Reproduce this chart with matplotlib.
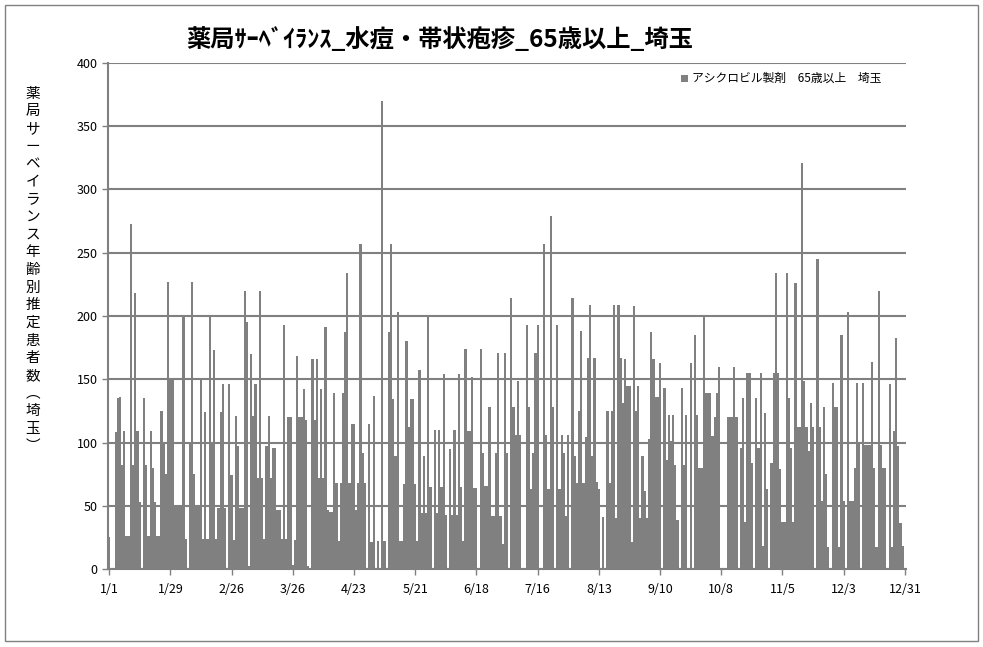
import matplotlib
matplotlib.use("Agg")
import matplotlib.pyplot as plt
from matplotlib.patches import Rectangle
import numpy as np

plt.rcParams['font.family'] = ['Noto Sans CJK JP', 'DejaVu Sans']

title = "薬局ｻｰﾍﾞｲﾗﾝｽ_水痘・帯状疱疹_65歳以上_埼玉"
ylabel_chars = ["薬", "局", "サ", "ー", "ベ", "イ", "ラ", "ン", "ス", "年", "齢", "別",
                "推", "定", "患", "者", "数", "︵", "埼", "玉", "︶"]
series_name = "アシクロビル製剤　65歳以上　埼玉"

tick_labels = ["1/1", "1/29", "2/26", "3/26", "4/23", "5/21", "6/18", "7/16",
               "8/13", "9/10", "10/8", "11/5", "12/3", "12/31"]
tick_days = [0, 28, 56, 84, 112, 140, 168, 196, 224, 252, 280, 308, 336, 364]

jan_feb = [25, 0, 0, 108, 135, 136, 82, 109, 26, 26, 273, 82, 218, 109, 53, 0, 135, 82, 26, 109,
           80, 53, 26, 26, 125, 100, 75, 227, 150, 150,
           50, 50, 50, 50, 201, 24, 0, 100, 227, 75, 50, 50, 150, 24, 124, 24, 199, 100, 173, 24,
           48, 124, 146, 48, 0, 146, 74, 23, 121, 97, 48]
mar_apr = [48, 220, 195, 2, 170, 121, 146, 72, 220, 72, 24, 97, 121, 72, 96, 96, 47, 47, 24, 193,
           24, 120, 120, 3, 23, 168, 120, 120, 142, 118,
           2, 0, 166, 118, 166, 72, 142, 72, 191, 47, 45, 45, 139, 68, 22, 68, 139, 187, 234, 68,
           115, 115, 47, 68, 257, 92, 68, 0, 115, 21, 137]
may_jun = [0, 22, 0, 370, 22, 0, 187, 257, 134, 89, 203, 22, 22, 67, 180, 112, 134, 134, 67, 22,
           157, 44, 89, 44, 199, 65, 0, 110, 44, 110, 65,
           154, 43, 0, 95, 43, 110, 43, 154, 65, 22, 174, 109, 109, 152, 64, 64, 0, 174, 92, 66,
           66, 128, 42, 42, 92, 171, 42, 20, 171, 92]
jul_aug = [0, 214, 128, 106, 149, 106, 0, 0, 193, 128, 63, 92, 171, 193, 0, 0, 257, 106, 63, 279,
           128, 0, 193, 63, 106, 92, 42, 106, 0, 214, 89,
           68, 125, 188, 68, 104, 167, 209, 89, 167, 69, 63, 0, 41, 0, 125, 68, 125, 209, 40, 209,
           167, 131, 166, 145, 145, 21, 208, 125, 145, 40, 89]
sep_oct = [62, 40, 103, 187, 166, 136, 136, 163, 0, 143, 86, 122, 101, 122, 82, 39, 0, 143, 82, 122,
           0, 163, 0, 185, 122, 80, 80, 201, 139, 139,
           139, 105, 120, 139, 160, 0, 0, 0, 120, 120, 120, 160, 120, 0, 96, 135, 37, 155, 155, 84,
           0, 135, 96, 155, 18, 123, 63, 0, 84, 155, 234]
nov_dec = [155, 79, 37, 37, 234, 135, 96, 37, 226, 112, 112, 321, 149, 112, 93, 131, 112, 0, 245, 112,
           54, 128, 75, 17, 0, 147, 128, 128, 17, 185,
           54, 0, 203, 54, 54, 80, 147, 99, 0, 147, 98, 98, 98, 164, 80, 17, 220, 98, 80, 80,
           0, 146, 17, 109, 183, 97, 36, 18, 0]

values = jan_feb + mar_apr + may_jun + jul_aug + sep_oct + nov_dec
days = np.arange(len(values))

W, H = 983, 647
fig = plt.figure(figsize=(W / 100, H / 100), dpi=100)
fig.patch.set_facecolor("white")
fig.patches.append(Rectangle((5 / W, 6 / H), 973 / W, 636 / H, transform=fig.transFigure,
                             fill=False, edgecolor="#808080", linewidth=1.0))

gray = "#808080"
ax = fig.add_axes([108 / W, 1 - 569 / H, (906 - 108) / W, (569 - 63) / H])
ax.bar(days, values, width=1.0, color=gray, linewidth=0)
ax.set_xlim(-0.5, len(values) - 0.5)
ax.set_ylim(0, 400)
ax.set_yticks(range(0, 401, 50))
ax.yaxis.grid(True, color=gray, linewidth=1.5)
ax.set_axisbelow(True)
ax.set_xticks(tick_days)
ax.set_xticklabels(tick_labels)
ax.tick_params(axis="both", colors=gray, labelcolor="black", labelsize=9, length=4, width=1)
ax.tick_params(axis="x", pad=6)
for s in ["top", "right"]:
    ax.spines[s].set_visible(False)
for s in ["left", "bottom"]:
    ax.spines[s].set_color(gray)
    ax.spines[s].set_linewidth(1.5)

fig.text(440 / W, 1 - 40 / H, title, ha="center", va="center", fontsize=17.5, fontweight="bold")
fig.text(33 / W, 1 - 270 / H, "\n".join(ylabel_chars), ha="center", va="center",
         fontsize=10.5, linespacing=1.33)

fig.patches.append(Rectangle((681 / W, 1 - 82 / H), 7 / W, 7 / H, transform=fig.transFigure,
                             facecolor=gray, edgecolor="none"))
fig.text(692 / W, 1 - 78 / H, series_name, ha="left", va="center", fontsize=8.5)

fig.savefig("out.png", dpi=100)
